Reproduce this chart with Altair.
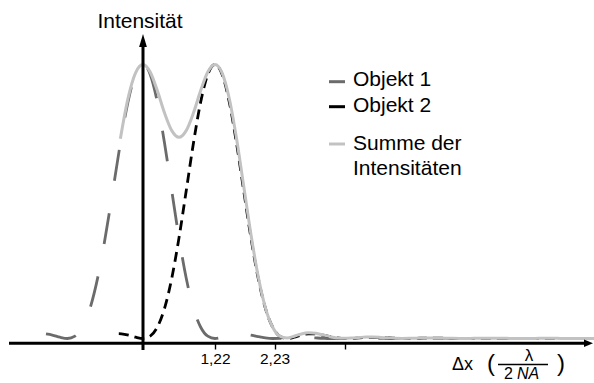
import altair as alt
import pandas as pd

# Shared sampling grid, x in units of lambda / (2 NA)
X_GRID = [0.0, 0.122, 0.244, 0.366, 0.488, 0.61, 0.732, 0.854, 0.976, 1.098,
          1.22, 1.342, 1.464, 1.586, 1.708, 1.83, 1.952, 2.074, 2.196, 2.318,
          2.44, 2.562, 2.684, 2.806, 2.928, 3.05, 3.172, 3.294, 3.416, 3.538,
          3.66, 3.782, 3.904, 4.026, 4.148, 4.27, 4.392, 4.514, 4.636, 4.758,
          4.88, 5.002, 5.124, 5.246, 5.368, 5.49, 5.612, 5.734, 5.856, 5.978,
          6.1, 6.222, 6.344, 6.466, 6.588, 6.71, 6.832, 6.954, 7.076, 7.198,
          7.32, 7.442, 7.564, 7.686]

# Objekt 1 (centred at 0)
X_OBJ1_LEFT = [-1.644, -1.537, -1.409, -1.281, -1.153, -1.025, -0.897, -0.769,
               -0.641, -0.512, -0.384, -0.256, -0.128]
I_OBJ1_LEFT = [0.0165, 0.0124, 0.0047, 0.0, 0.0085, 0.0420, 0.1109, 0.2205,
               0.3673, 0.5382, 0.7117, 0.8618, 0.9638]
I_OBJ1_GRID = [1.0, 0.9638, 0.8618, 0.7117, 0.5382, 0.3673, 0.2205, 0.1109, 0.0420, 0.0085,
               0.0, 0.0047, 0.0124, 0.0171, 0.0166, 0.0123, 0.0066, 0.0021, 0.0001, 0.0004,
               0.0021, 0.0036, 0.0042, 0.0036, 0.0022, 0.0009, 0.0001, 0.0001, 0.0006, 0.0012,
               0.0016, 0.0015, 0.0010, 0.0005, 0.0001, 0.0, 0.0002, 0.0005, 0.0007, 0.0008,
               0.0006, 0.0003, 0.0001, 0.0, 0.0001, 0.0002, 0.0004, 0.0004, 0.0004, 0.0002,
               0.0001, 0.0, 0.0, 0.0001, 0.0002, 0.0002, 0.0002, 0.0002, 0.0001, 0.0,
               0.0, 0.0, 0.0001, 0.0001]

# Objekt 2 (centred at 1.22)
X_OBJ2_LEFT = [-0.41, -0.366, -0.244, -0.122]
I_OBJ2_LEFT = [0.0175, 0.0171, 0.0124, 0.0047]
I_OBJ2_GRID = [0.0, 0.0085, 0.0420, 0.1109, 0.2205, 0.3673, 0.5382, 0.7117, 0.8618, 0.9638,
               1.0, 0.9638, 0.8618, 0.7117, 0.5382, 0.3673, 0.2205, 0.1109, 0.0420, 0.0085,
               0.0, 0.0047, 0.0124, 0.0171, 0.0166, 0.0123, 0.0066, 0.0021, 0.0001, 0.0004,
               0.0021, 0.0036, 0.0042, 0.0036, 0.0022, 0.0009, 0.0001, 0.0001, 0.0006, 0.0012,
               0.0016, 0.0015, 0.0010, 0.0005, 0.0001, 0.0, 0.0002, 0.0005, 0.0007, 0.0008,
               0.0006, 0.0003, 0.0001, 0.0, 0.0001, 0.0002, 0.0004, 0.0004, 0.0004, 0.0002,
               0.0001, 0.0, 0.0, 0.0001]

# Summe der Intensitaeten
X_SUM_LEFT = [-0.384, -0.256, -0.128]
I_SUM_LEFT = [0.7288, 0.8747, 0.9688]
I_SUM_GRID = [1.0, 0.9723, 0.9038, 0.8226, 0.7587, 0.7346, 0.7587, 0.8226, 0.9038, 0.9723,
              1.0, 0.9685, 0.8742, 0.7287, 0.5548, 0.3796, 0.2271, 0.1130, 0.0421, 0.0089,
              0.0021, 0.0083, 0.0166, 0.0206, 0.0189, 0.0132, 0.0067, 0.0022, 0.0007, 0.0017,
              0.0036, 0.0051, 0.0052, 0.0041, 0.0023, 0.0009, 0.0003, 0.0006, 0.0013, 0.0020,
              0.0022, 0.0018, 0.0011, 0.0005, 0.0002, 0.0003, 0.0006, 0.0009, 0.0011, 0.0010,
              0.0007, 0.0003, 0.0001, 0.0001, 0.0003, 0.0005, 0.0006, 0.0006, 0.0004, 0.0002,
              0.0001, 0.0, 0.0001, 0.0003]

TICK_VALUES = [1.22, 2.23, 3.42]
TICK_LABELS = ["1,22", "2,23", ""]
LEGEND_LABELS = ["Objekt 1", "Objekt 2", "Summe der", "Intensitäten"]
SERIES_COLORS = ["#6b6b6b", "#000000", "#c2c2c2"]

FONT = "Liberation Sans"
W, H = 594, 383

xs = alt.Scale(domain=[-2.4237, 7.6441], nice=False, zero=False)
ys = alt.Scale(domain=[-0.1624, 1.2354], nice=False, zero=False)

label_expr = " : ".join(
    f"datum.value == {v} ? '{t}'" for v, t in zip(TICK_VALUES, TICK_LABELS)
) + " : ''"

x_axis = alt.Axis(values=TICK_VALUES, labelExpr=label_expr, domain=False, grid=False,
                  tickSize=6, tickWidth=1.4, tickColor="black", labelColor="black",
                  labelFont=FONT, labelFontSize=15.5, labelPadding=2,
                  labelFlush=False, labelOverlap=False, offset=-40, title=None)


def curve(xv, iv, color, width, dash=None):
    df = pd.DataFrame({"x": xv, "i": iv})
    kw = dict(color=color, strokeWidth=width, interpolate="monotone", strokeCap="butt")
    if dash:
        kw["strokeDash"] = dash
    return alt.Chart(df).mark_line(**kw).encode(
        x=alt.X("x:Q", scale=xs, axis=x_axis),
        y=alt.Y("i:Q", scale=ys, axis=None),
    )


def text(s, x, y, size, align="left", style="normal"):
    return alt.Chart(alt.Data(values=[{}])).mark_text(
        text=s, align=align, baseline="alphabetic", font=FONT, fontSize=size,
        fontStyle=style, color="black"
    ).encode(x=alt.value(x), y=alt.value(y))


def hline(x1, x2, y, color="black", width=3):
    return alt.Chart(alt.Data(values=[{}])).mark_rule(
        color=color, strokeWidth=width, strokeCap="butt"
    ).encode(x=alt.value(x1), x2=alt.value(x2), y=alt.value(y))


obj1 = curve(X_OBJ1_LEFT + X_GRID, I_OBJ1_LEFT + I_OBJ1_GRID, SERIES_COLORS[0], 2.8, [31, 33])
obj2 = curve(X_OBJ2_LEFT + X_GRID, I_OBJ2_LEFT + I_OBJ2_GRID, SERIES_COLORS[1], 2.8, [10, 6])
total = curve(X_SUM_LEFT + X_GRID, I_SUM_LEFT + I_SUM_GRID, SERIES_COLORS[2], 3)

# hand-drawn axes with arrow heads
x_line = hline(9, 587, 343.3)
y_line = alt.Chart(alt.Data(values=[{}])).mark_rule(
    color="black", strokeWidth=3, strokeCap="butt"
).encode(x=alt.value(143), y=alt.value(350), y2=alt.value(46))
x_head = alt.Chart(alt.Data(values=[{}])).mark_point(
    shape="M-1,-0.85 L1,0 L-1,0.85 Z", filled=True, size=81, color="black", opacity=1
).encode(x=alt.value(588.5), y=alt.value(343.3))
y_head = alt.Chart(alt.Data(values=[{}])).mark_point(
    shape="M-0.6,1 L0,-1 L0.6,1 Z", filled=True, size=169, color="black", opacity=1
).encode(x=alt.value(143), y=alt.value(40.5))

y_title = text("Intensität", 140, 28, 21, align="center")

x_title = [
    text("Δx", 452, 370, 18),
    text("(", 487, 371, 24),
    text("λ", 529, 361, 17, align="center"),
    hline(498, 548, 364.5, width=1.3),
    text("2", 504, 378.5, 16),
    text("NA", 517, 378.5, 16, style="italic"),
    text(")", 557, 371, 24),
]

legend = [
    hline(329, 345, 81.7, SERIES_COLORS[0], 3),
    text(LEGEND_LABELS[0], 353, 86, 21),
    hline(329, 345, 106.7, SERIES_COLORS[1], 3),
    text(LEGEND_LABELS[1], 353, 112, 21),
    hline(329, 345, 144, SERIES_COLORS[2], 3),
    text(LEGEND_LABELS[2], 353, 150, 21),
    text(LEGEND_LABELS[3], 353, 175, 21),
]

chart = alt.layer(
    obj1, obj2, total, x_line, y_line, x_head, y_head, y_title, *x_title, *legend
).properties(
    width=W, height=H, padding=0, autosize=alt.AutoSizeParams(type="none")
).configure_view(stroke=None)

chart.save("out.html", embed_options={"renderer": "svg", "actions": False})
